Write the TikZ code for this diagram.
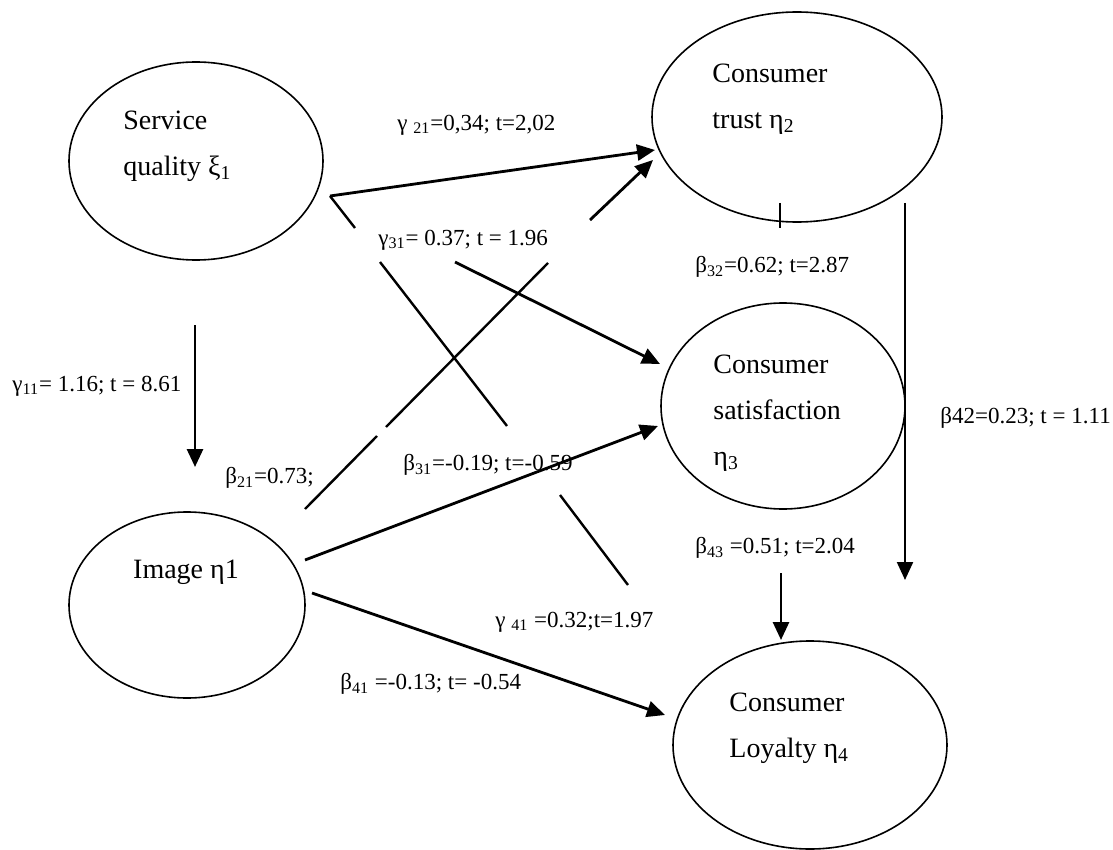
\documentclass[tikz,border=0pt]{standalone}
\usepackage{fontspec}
\setmainfont{Liberation Serif}
\usetikzlibrary{shapes.geometric, arrows.meta}
\tikzset{
    construct/.style={
        ellipse, draw=black, line width=0.8pt, inner sep=0pt
    },
    vartext/.style={
        anchor=west, align=left, inner sep=0pt,
        font=\fontsize{14}{23}\selectfont
    },
    coef/.style={
        anchor=west, inner sep=0pt,
        font=\fontsize{11.5}{13}\selectfont
    },
    wire/.style={draw=black, line width=1.4pt, -{Triangle[length=9pt,width=8pt]}},
    link/.style={draw=black, line width=1.2pt}
}

\begin{document}
\begin{tikzpicture}[x=0.5pt, y=-0.5pt]
\useasboundingbox (0,0) rectangle (1113,850);

% Latent constructs
\node[construct, minimum width=127pt, minimum height=99pt] (sq) at (196,161) {};
\node[construct, minimum width=145pt, minimum height=105pt] (tr) at (797,117) {};
\node[construct, minimum width=122pt, minimum height=103pt] (sat) at (783,406) {};
\node[construct, minimum width=118pt, minimum height=93pt] (img) at (187,605) {};
\node[construct, minimum width=137pt, minimum height=104pt] (loy) at (810,745) {};

\node[vartext] (sqtext) at (123,146) {Service\\quality ξ\textsubscript{1}};
\node[vartext] (trtext) at (712,99) {Consumer\\trust η\textsubscript{2}};
\node[vartext] (sattext) at (713,413) {Consumer\\satisfaction\\η\textsubscript{3}};
\node[vartext, anchor=center] (imgtext) at (186,572) {Image η1};
\node[vartext] (loytext) at (729,728) {Consumer\\Loyalty η\textsubscript{4}};

% Connector ends
\coordinate (g11s) at (195,325);  \coordinate (g11t) at (195,467);
\coordinate (sqE)  at (330,196);
\coordinate (g21t) at (655,150);
\coordinate (g31s) at (455,262);  \coordinate (g31t) at (660,364);
\coordinate (g41a) at (355,228);  \coordinate (g41b) at (380,262);
\coordinate (g41c) at (507,426);  \coordinate (g41d) at (560,495);
\coordinate (g41t) at (628,585);
\coordinate (b21s) at (305,509);  \coordinate (b21a) at (377,436);
\coordinate (b21b) at (386,427);  \coordinate (b21c) at (548,263);
\coordinate (b21d) at (590,220);  \coordinate (b21t) at (653,160);
\coordinate (b31s) at (305,560);  \coordinate (b31t) at (658,426);
\coordinate (b41s) at (312,593);  \coordinate (b41t) at (665,715);
\coordinate (b32s) at (780,203);  \coordinate (b32t) at (780,228);
\coordinate (b42s) at (905,203);  \coordinate (b42t) at (905,580);
\coordinate (b43s) at (781,573);  \coordinate (b43t) at (781,640);

% Paths from service quality
\draw[wire] (g11s) -- (g11t);
\draw[wire] (sqE) -- (g21t);
\draw[wire] (g31s) -- (g31t);
\draw[link] (sqE) -- (g41a);
\draw[link] (g41b) -- (g41c);
\draw[link] (g41d) -- (g41t);

% Paths from image
\draw[link] (b21s) -- (b21a);
\draw[link] (b21b) -- (b21c);
\draw[wire] (b21d) -- (b21t);
\draw[wire] (b31s) -- (b31t);
\draw[wire] (b41s) -- (b41t);

% Paths from trust and satisfaction
\draw[link] (b32s) -- (b32t);
\draw[wire, line width=1.1pt] (b42s) -- (b42t);
\draw[wire] (b43s) -- (b43t);

% Coefficients
\node[coef] (g21lbl) at (397,125) {γ \textsubscript{21}=0,34; t=2,02};
\node[coef] (g31lbl) at (378,240) {γ\textsubscript{31}= 0.37; t = 1.96};
\node[coef] (b32lbl) at (695,267) {β\textsubscript{32}=0.62; t=2.87};
\node[coef] (g11lbl) at (12,386) {γ\textsubscript{11}= 1.16; t = 8.61};
\node[coef] (b21lbl) at (225,478) {β\textsubscript{21}=0.73;};
\node[coef] (b31lbl) at (403,465) {β\textsubscript{31}=-0.19; t=-0.59};
\node[coef] (b42lbl) at (940,418) {β42=0.23; t = 1.11};
\node[coef] (b43lbl) at (695,548) {β\textsubscript{43} =0.51; t=2.04};
\node[coef] (g41lbl) at (495,622) {γ \textsubscript{41} =0.32;t=1.97};
\node[coef] (b41lbl) at (340,684) {β\textsubscript{41} =-0.13; t= -0.54};

\end{tikzpicture}
\end{document}
